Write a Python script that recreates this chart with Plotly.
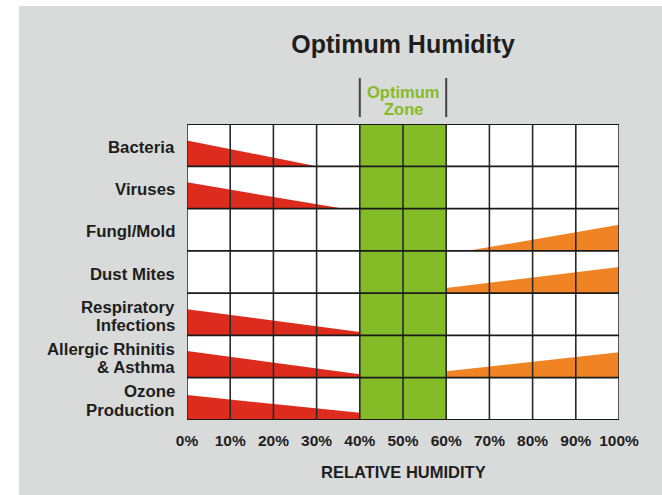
import plotly.graph_objects as go

# ---- data ----
categories = ["Bacteria", "Viruses", "Fungl/Mold", "Dust Mites",
              "Respiratory<br>Infections", "Allergic Rhinitis<br>& Asthma",
              "Ozone<br>Production"]
# risk wedges: (category index, start %, end %, start height, end height, kind)
seg_category = [0, 1, 2, 3, 4, 5, 5, 6]
seg_start = [0, 0, 65, 60, 0, 0, 60, 0]
seg_end = [30, 36, 100, 100, 40, 40, 100, 40]
seg_h_start = [0.61, 0.62, 0.0, 0.12, 0.62, 0.63, 0.15, 0.59]
seg_h_end = [0.0, 0.0, 0.62, 0.62, 0.08, 0.08, 0.60, 0.17]
seg_kind = ["low", "low", "high", "high", "low", "low", "high", "low"]
optimum_zone = [40, 60]
zone_label = "Optimum<br>Zone"
x_ticks = [0, 10, 20, 30, 40, 50, 60, 70, 80, 90, 100]

# ---- style ----
W, H = 662, 495
ML, MR, MT, MB = 187, 43, 124, 75
PW, PH = W - ML - MR, H - MT - MB
BG = "#D9DADA"
GREEN = "#84BC28"
COLORS = {"low": "#DD2C1D", "high": "#F08424"}
TEXT = "#1e1e1e"
FONT = "Liberation Sans"
n = len(categories)
LABEL_SIZE = 16.8
LINE_GAP = 18.5  # px between lines of multi-line labels

def px_to_px(x):
    return (x - ML) / PW

def py_to_py(y):
    return (H - MB - y) / PH

fig = go.Figure()

# optimum zone
fig.add_trace(go.Scatter(
    x=[optimum_zone[0], optimum_zone[1], optimum_zone[1], optimum_zone[0], optimum_zone[0]],
    y=[0, 0, n, n, 0], fill="toself", fillcolor=GREEN, mode="none",
    hoverinfo="skip", showlegend=False))

# wedges
for c, x0, x1, h0, h1, k in zip(seg_category, seg_start, seg_end, seg_h_start, seg_h_end, seg_kind):
    base = n - 1 - c
    fig.add_trace(go.Scatter(
        x=[x0, x0, x1, x1, x0],
        y=[base, base + h0, base + h1, base, base],
        fill="toself", fillcolor=COLORS[k], mode="none",
        hoverinfo="skip", showlegend=False))

shapes = []
# background: white strips at left/top
shapes.append(dict(type="rect", xref="paper", yref="paper", layer="below",
                   x0=px_to_px(-5), x1=px_to_px(19), y0=py_to_py(H + 5), y1=py_to_py(-5),
                   fillcolor="white", line=dict(width=0)))
shapes.append(dict(type="rect", xref="paper", yref="paper", layer="below",
                   x0=px_to_px(-5), x1=px_to_px(W + 5), y0=py_to_py(6), y1=py_to_py(-5),
                   fillcolor="white", line=dict(width=0)))
# grid lines above fills
for xv in x_ticks:
    shapes.append(dict(type="line", xref="x", yref="y", x0=xv, x1=xv, y0=0, y1=n,
                       layer="above", line=dict(color="#2a2a2a", width=1.6)))
for yv in range(n + 1):
    shapes.append(dict(type="line", xref="x", yref="y", x0=0, x1=100, y0=yv, y1=yv,
                       layer="above", line=dict(color="#1a1a1a", width=1.8)))
# optimum zone bracket lines
for xv in optimum_zone:
    shapes.append(dict(type="line", xref="x", yref="paper", x0=xv, x1=xv,
                       y0=py_to_py(117), y1=py_to_py(78),
                       line=dict(color="#444444", width=2)))

annotations = []
# category labels (one annotation per text line for tight line spacing)
for i, cat in enumerate(categories):
    lines = cat.split("<br>")
    center_px = MT + (i + 0.5) * PH / n + 2
    for j, line in enumerate(lines):
        off = (j - (len(lines) - 1) / 2) * LINE_GAP
        annotations.append(dict(
            text=f"<b>{line}</b>", x=px_to_px(177), xref="paper", xanchor="right",
            y=py_to_py(center_px + off), yref="paper", yanchor="middle",
            showarrow=False, font=dict(family=FONT, size=LABEL_SIZE, color=TEXT)))

zl = zone_label.split("<br>")
for j, line in enumerate(zl):
    annotations.append(dict(
        text=f"<b>{line}</b>", x=sum(optimum_zone) / 2, xref="x", xanchor="center",
        y=py_to_py(100.5 + (j - (len(zl) - 1) / 2) * 17), yref="paper", yanchor="middle",
        showarrow=False, font=dict(family=FONT, size=16.5, color=GREEN)))

annotations.append(dict(text="<b>RELATIVE HUMIDITY</b>", x=0.5, xref="paper",
                        y=py_to_py(471.5), yref="paper", showarrow=False, yanchor="middle",
                        font=dict(family=FONT, size=16.5, color=TEXT)))

fig.update_layout(
    width=W, height=H,
    margin=dict(l=ML, r=MR, t=MT, b=MB),
    paper_bgcolor=BG, plot_bgcolor="white",
    title=dict(text="<b>Optimum Humidity</b>", x=0.5, xref="paper", xanchor="center",
               y=1 - 44 / H, yref="container", yanchor="middle",
               font=dict(family=FONT, size=25, color=TEXT)),
    shapes=shapes, annotations=annotations,
    xaxis=dict(range=[0, 100], tickvals=x_ticks, ticktext=[f"<b>{v}%</b>" for v in x_ticks],
               showgrid=False, zeroline=False, showline=False, ticks="",
               ticklabelstandoff=9,
               tickfont=dict(family=FONT, size=15.5, color=TEXT), fixedrange=True),
    yaxis=dict(range=[0, n], showticklabels=False,
               showgrid=False, zeroline=False, showline=False, ticks="",
               fixedrange=True),
)

fig.write_html("out.html", config={"displayModeBar": False},
               post_script="document.body.style.margin='0';document.body.style.padding='0';")
